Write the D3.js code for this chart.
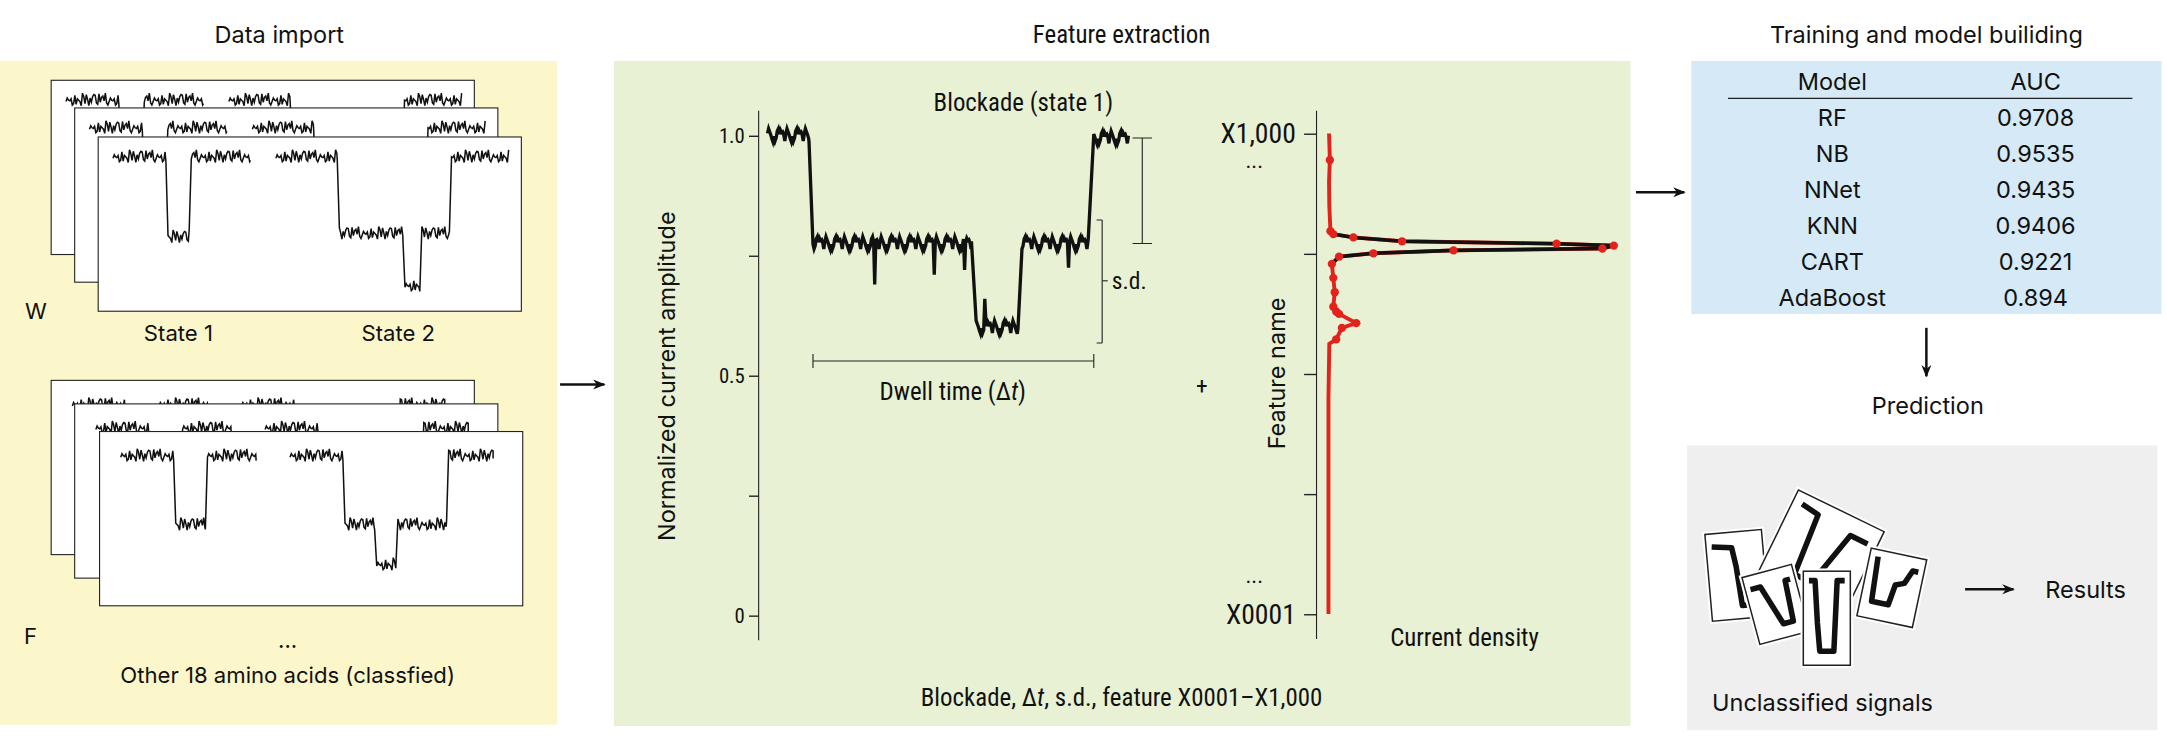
<!DOCTYPE html>
<html>
<head>
<meta charset="utf-8">
<script src="https://cdn.jsdelivr.net/npm/d3@7"></script>
<style>
  body { margin: 0; background: #fff; }
  text { fill: #111; }
  .geo { font-family: Inter, "Noto Sans", sans-serif; }
  .narrow { font-family: "Liberation Sans Narrow", "Roboto Condensed", Roboto, sans-serif; }
</style>
</head>
<body>
<script>
// ---- data ----
// schematic noise (hand typed), reused along the traces
const noise = [0.3, -0.6, 0.9, -0.2, 0.5, -0.9, 0.1, 0.7, -0.4, 0.2, -0.8, 0.6, -0.1, 0.4, -0.7,
  0.8, -0.3, 0.0, 0.6, -0.5, 0.9, -0.6, 0.2, -0.2, 0.7, -0.9, 0.4, -0.1, 0.5, -0.4, 0.1, 0.8, -0.7, 0.3];

// data import traces: [xStart, xEnd, level] as fractions of a frame
const wSegments = [[0.035, 0.16, 0.11], [0.165, 0.215, 0.57], [0.22, 0.36, 0.11],
  [0.42, 0.565, 0.11], [0.57, 0.72, 0.55], [0.725, 0.76, 0.85], [0.765, 0.83, 0.55], [0.835, 0.97, 0.11]];
const fSegments = [[0.05, 0.175, 0.135], [0.18, 0.25, 0.53], [0.255, 0.37, 0.135],
  [0.45, 0.575, 0.135], [0.58, 0.65, 0.53], [0.655, 0.70, 0.76], [0.705, 0.82, 0.53], [0.825, 0.93, 0.135]];

// blockade trace: [tStart, tEnd, amplitude], t in % of the window
const blockSegments = [[0, 11.5, 1.0], [12.6, 56.5, 0.775], [57.8, 69.4, 0.60], [70.5, 88.9, 0.775], [90.4, 100, 0.995]];
const dipTimes = [29.6, 46.3, 54.6, 83.3, 60.2];
const dipValues = [0.69, 0.71, 0.72, 0.725, 0.66];

// current density profile
const featureIdx = [1000, 945, 900, 850, 797, 791, 784, 776, 771, 767, 761, 757, 751, 744, 729, 700, 670, 640, 630, 625, 606, 596, 572, 563, 450, 300, 150, 1];
const density =    [0.5, 0.8, 0.5, 0.6, 1, 2, 9, 26, 80, 100, 96, 44, 16, 4, 1.5, 2, 2.5, 2, 3, 4, 10, 5, 3, 0.6, 0.3, 0.3, 0.3, 0.3];

const models = ["RF", "NB", "NNet", "KNN", "CART", "AdaBoost"];
const aucs = ["0.9708", "0.9535", "0.9435", "0.9406", "0.9221", "0.894"];

const amplitudeTicks = [0, 0.25, 0.5, 0.75, 1];
const featureTicks = [1, 250.75, 500.5, 750.25, 1000];

// unclassified cards: trace points (fractions of a card)
const cardTraces = [
  [[0.1, 0.15], [0.45, 0.18], [0.5, 0.4], [0.55, 0.85], [0.9, 0.85]],
  [[0.1, 0.12], [0.3, 0.15], [0.35, 0.85], [0.55, 0.85], [0.7, 0.2], [0.9, 0.2]],
  [[0.1, 0.2], [0.3, 0.2], [0.55, 0.8], [0.75, 0.8], [0.8, 0.2], [0.9, 0.2]],
  [[0.12, 0.1], [0.25, 0.1], [0.3, 0.55], [0.35, 0.85], [0.65, 0.85], [0.72, 0.1], [0.88, 0.1]],
  [[0.15, 0.1], [0.2, 0.75], [0.5, 0.75], [0.55, 0.45], [0.7, 0.4], [0.8, 0.2], [0.9, 0.2]]
];
// cx, cy, w, h, rotation
const cards = [[1256, 416, 41, 63, -5], [1317, 399, 69, 66, 26], [1284, 437, 37, 50, -15], [1321, 447, 34, 68, 0], [1368, 425, 41, 50, 12]];

const svg = d3.select("body").append("svg")
  .attr("width", 2167).attr("height", 740)
  .attr("viewBox", "0 0 1567 535");

const defs = svg.append("defs");
const marker = defs.append("marker").attr("id", "arr")
  .attr("viewBox", "0 0 10 10").attr("refX", 9).attr("refY", 5)
  .attr("markerWidth", 5).attr("markerHeight", 5).attr("orient", "auto");
marker.append("path").attr("d", "M0,1 L10,5 L0,9 L3,5 z").attr("fill", "#111");

const arrow = (x1, y1, x2, y2) => {
  svg.append("line").attr("x1", x1).attr("y1", y1).attr("x2", x2).attr("y2", y2)
    .attr("stroke", "#111").attr("stroke-width", 1.8).attr("marker-end", "url(#arr)");
};

const label = (x, y, txt, size, cls, anchor) => {
  return svg.append("text").attr("x", x).attr("y", y).attr("class", cls)
    .attr("font-size", size).attr("text-anchor", anchor || "middle")
    .attr("dominant-baseline", "central").text(txt);
};

// ---- panels ----
svg.append("rect").attr("x", 0).attr("y", 44).attr("width", 403).attr("height", 480).attr("fill", "#fcf7cb");
svg.append("rect").attr("x", 444).attr("y", 44).attr("width", 735).attr("height", 481).attr("fill", "#e8f1d3");
svg.append("rect").attr("x", 1223).attr("y", 44).attr("width", 340).attr("height", 183).attr("fill", "#d5eaf6");
svg.append("rect").attr("x", 1220).attr("y", 322).attr("width", 340).attr("height", 206).attr("fill", "#efefef");

label(202, 25, "Data import", 17, "geo");
label(811, 25, "Feature extraction", 18, "narrow");
label(1393, 25, "Training and model builiding", 17, "geo");

arrow(405, 278, 437, 278);
arrow(1183, 139, 1218, 139);
arrow(1393, 237, 1393, 272);
arrow(1421, 426, 1456, 426);

// ---- data import ----
const traceLine = (segs, w, h) => {
  let pts = [];
  let k = 0;
  segs.forEach(s => {
    const xs = d3.range(s[0], s[1], 0.003);
    xs.push(s[1]);
    xs.forEach(x => {
      pts.push([x * w, (s[2] + noise[k % noise.length] * 0.04) * h]);
      k += 3;
    });
  });
  return pts;
};

const drawStack = (frames, segs) => {
  frames.forEach(f => {
    const g = svg.append("g").attr("transform", `translate(${f[0]},${f[1]})`);
    g.append("rect").attr("width", 306).attr("height", 126)
      .attr("fill", "#fff").attr("stroke", "#222").attr("stroke-width", 0.8);
    // split on big gaps so state 1 and state 2 stay separate events
    const groups = [segs.slice(0, 3), segs.slice(3)];
    groups.forEach(gr => {
      g.append("path").attr("d", d3.line()(traceLine(gr, 306, 126)))
        .attr("fill", "none").attr("stroke", "#111").attr("stroke-width", 1.1);
    });
  });
};
drawStack([[37, 58], [54, 78], [71, 99]], wSegments);
drawStack([[37, 275], [54, 292], [72, 312]], fSegments);

label(26, 225, "W", 16, "geo");
label(129, 241, "State 1", 16, "geo");
label(288, 241, "State 2", 16, "geo");
label(22, 460, "F", 16, "geo");
label(208, 463, "...", 16, "geo");
label(208, 488, "Other 18 amino acids (classfied)", 16, "geo");

// ---- feature extraction: blockade trace ----
const x = d3.scaleLinear().domain([0, 100]).range([555, 816]);
const y = d3.scaleLinear().domain([0, 1]).range([445, 98]);

svg.append("line").attr("x1", 548.6).attr("x2", 548.6).attr("y1", 80).attr("y2", 463)
  .attr("stroke", "#222").attr("stroke-width", 0.8);
const yAxis = svg.append("g").attr("transform", "translate(548.6,0)")
  .call(d3.axisLeft(y).tickValues(amplitudeTicks).tickSize(7)
    .tickFormat(d => d === 1 ? "1.0" : d === 0.5 ? "0.5" : d === 0 ? "0" : ""));
yAxis.select(".domain").remove();
yAxis.selectAll("line").attr("stroke", "#222");
yAxis.selectAll("text").attr("class", "narrow").attr("font-size", 15).attr("fill", "#111");

svg.append("text").attr("class", "geo").attr("font-size", 17)
  .attr("transform", "translate(482,272) rotate(-90)")
  .attr("text-anchor", "middle").attr("dominant-baseline", "central")
  .text("Normalized current amplitude");

let bPts = [];
let k = 0;
blockSegments.forEach(s => {
  const ts = d3.range(s[0], s[1], 0.3);
  ts.push(s[1]);
  ts.forEach(t => {
    let v = s[2] + noise[k % noise.length] * 0.016;
    const di = dipTimes.findIndex(d => Math.abs(d - t) < 0.16);
    if (di >= 0) v = dipValues[di];
    bPts.push([x(t), y(v)]);
    k += 2;
  });
});
svg.append("path").attr("d", d3.line()(bPts))
  .attr("fill", "none").attr("stroke", "#111").attr("stroke-width", 2.4);

// brackets
const bracket = (x0, y0, y1, capL, capR) => {
  svg.append("path").attr("d", `M${x0 - capL},${y0}H${x0 + capR}M${x0},${y0}V${y1}M${x0 - capL},${y1}H${x0 + capR}`)
    .attr("fill", "none").attr("stroke", "#222").attr("stroke-width", 0.8);
};
bracket(826, y(0.995), y(0.775), 7, 7);
bracket(797, 159, 248, 4, 0);
svg.append("line").attr("x1", 797).attr("x2", 801).attr("y1", 203).attr("y2", 203).attr("stroke", "#222").attr("stroke-width", 0.8);
label(804, 203, "s.d.", 17, "narrow", "start");
svg.append("path").attr("d", `M${x(12.6)},256V266M${x(12.6)},261H${x(90.4)}M${x(90.4)},256V266`)
  .attr("fill", "none").attr("stroke", "#222").attr("stroke-width", 0.8);
svg.append("text").attr("class", "narrow").attr("font-size", 18).attr("x", 689).attr("y", 283)
  .attr("text-anchor", "middle").attr("dominant-baseline", "central")
  .html("Dwell time (Δ<tspan font-style='italic'>t</tspan>)");
label(740, 74, "Blockade (state 1)", 18, "narrow");
label(869, 279, "+", 17, "narrow");

// ---- feature extraction: density profile ----
const fy = d3.scaleLinear().domain([1, 1000]).range([444, 96.5]);
const fx = d3.scaleLinear().domain([0, 100]).range([960, 1167]);

svg.append("line").attr("x1", 952).attr("x2", 952).attr("y1", 80).attr("y2", 462)
  .attr("stroke", "#222").attr("stroke-width", 0.8);
const fAxis = svg.append("g").attr("transform", "translate(952,0)")
  .call(d3.axisLeft(fy).tickValues(featureTicks).tickSize(9).tickPadding(6)
    .tickFormat(d => d === 1000 ? "X1,000" : d === 1 ? "X0001" : ""));
fAxis.select(".domain").remove();
fAxis.selectAll("line").attr("stroke", "#222");
fAxis.selectAll("text").attr("class", "narrow").attr("font-size", 20).attr("fill", "#111");
label(907, 116, "...", 16, "narrow");
label(907, 416, "...", 16, "narrow");

svg.append("text").attr("class", "geo").attr("font-size", 17)
  .attr("transform", "translate(923,270) rotate(-90)")
  .attr("text-anchor", "middle").attr("dominant-baseline", "central").text("Feature name");
label(1059, 461, "Current density", 18, "narrow");

const densPts = featureIdx.map((f, i) => [fx(density[i]), fy(f)]);
svg.append("path").attr("d", d3.line()(densPts))
  .attr("fill", "none").attr("stroke", "#e3221b").attr("stroke-width", 2.8);
const peakPts = densPts.filter((p, i) => featureIdx[i] <= 797 && featureIdx[i] >= 729);
svg.append("path").attr("d", d3.line()(peakPts))
  .attr("fill", "none").attr("stroke", "#111").attr("stroke-width", 2.6);
svg.selectAll(".dens").data(densPts.filter((p, i) => density[i] > 0.7)).join("circle")
  .attr("cx", d => d[0]).attr("cy", d => d[1]).attr("r", 3).attr("fill", "#e3221b");

label(811, 504, "", 18, "narrow")
  .html("Blockade, Δ<tspan font-style='italic'>t</tspan>, s.d., feature X0001–X1,000");

// ---- training table ----
label(1325, 59, "Model", 17, "geo");
label(1472, 59, "AUC", 17, "geo");
svg.append("line").attr("x1", 1249.5).attr("x2", 1542).attr("y1", 71).attr("y2", 71)
  .attr("stroke", "#222").attr("stroke-width", 0.9);
const row = d3.scaleLinear().domain([0, 5]).range([84.6, 214.8]);
models.forEach((m, i) => {
  label(1325, row(i), m, 17, "geo");
  label(1472, row(i), aucs[i], 17, "geo");
});
label(1394, 293, "Prediction", 17, "geo");

// ---- unclassified signals ----
cards.forEach((c, i) => {
  const g = svg.append("g").attr("transform", `translate(${c[0]},${c[1]}) rotate(${c[4]})`);
  g.append("rect").attr("x", -c[2] / 2 - 2).attr("y", -c[3] / 2 - 2).attr("width", c[2] + 4).attr("height", c[3] + 4).attr("fill", "#fff");
  g.append("rect").attr("x", -c[2] / 2).attr("y", -c[3] / 2).attr("width", c[2]).attr("height", c[3])
    .attr("fill", "#fff").attr("stroke", "#222").attr("stroke-width", 1.1);
  const pts = cardTraces[i].map(p => [-c[2] / 2 + p[0] * c[2], -c[3] / 2 + p[1] * c[3]]);
  g.append("path").attr("d", d3.line()(pts)).attr("fill", "none")
    .attr("stroke", "#111").attr("stroke-width", 4).attr("stroke-linejoin", "round");
});
label(1238, 508, "Unclassified signals", 17, "geo", "start");
label(1479, 426, "Results", 17, "geo", "start");
</script>
</body>
</html>
